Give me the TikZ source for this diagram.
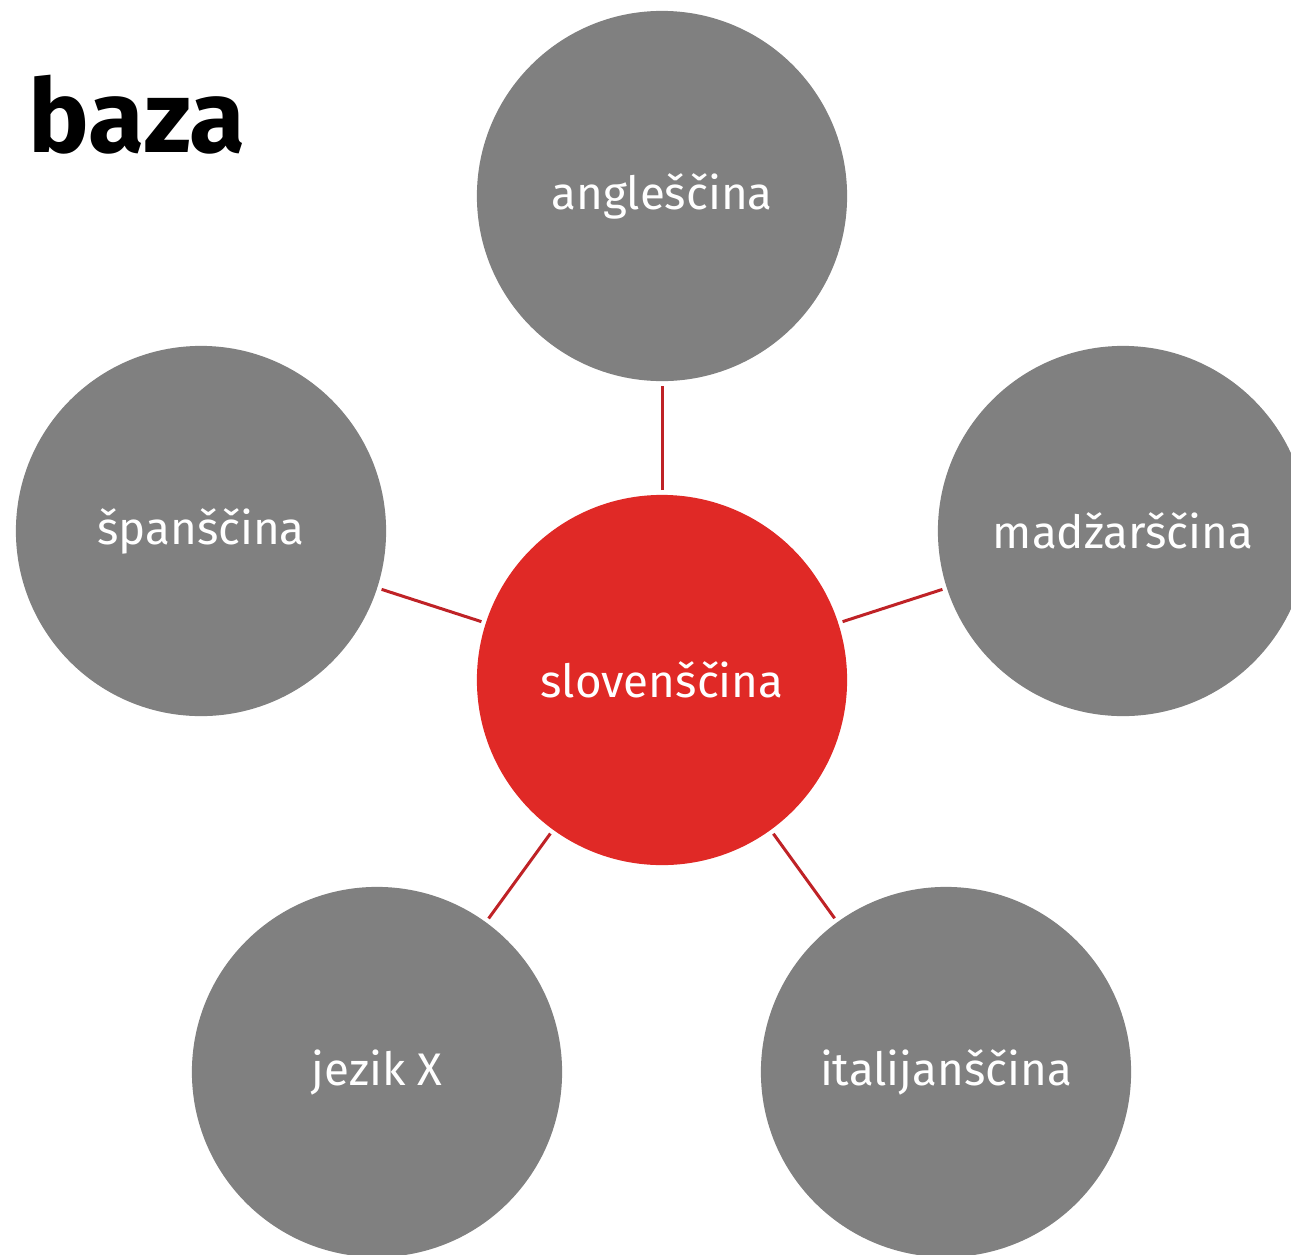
\documentclass[tikz,border=0pt]{standalone}
\usepackage{fontspec}
\setmainfont{Fira Sans}
\usetikzlibrary{arrows}

\definecolor{jred}{HTML}{E02926}
\definecolor{jgray}{HTML}{808080}
\definecolor{jline}{HTML}{BF2226}

\begin{document}
\begin{tikzpicture}[x=0.01cm,y=-0.01cm,
  lang/.style={circle,fill=jgray,minimum size=3.7cm,inner sep=0pt,
    text=white,font=\fontsize{13}{15}\selectfont},
  hub/.style={lang,fill=jred},
  link/.style={draw=jline,line width=0.03cm,shorten >=0.04cm,shorten <=0.04cm}]

  \useasboundingbox (0,0) rectangle (1291,1254);

  \node[anchor=base east,inner sep=0pt,font=\bfseries\fontsize{29}{34}\selectfont] (title) at (246,152) {n\hspace{0.33cm}baza};

  \node[hub] (slo) at (662,680) {slovenščina};

  \node[lang] (ang) at (662,196) {angleščina};
  \node[lang] (spa) at (201,531) {španščina};
  \node[lang] (mad) at (1123,531) {madžarščina};
  \node[lang] (jez) at (377,1072) {jezik X};
  \node[lang] (ita) at (946,1072) {italijanščina};

  \draw[link] (slo) -- (ang);
  \draw[link] (slo) -- (spa);
  \draw[link] (slo) -- (mad);
  \draw[link] (slo) -- (jez);
  \draw[link] (slo) -- (ita);

\end{tikzpicture}
\end{document}
